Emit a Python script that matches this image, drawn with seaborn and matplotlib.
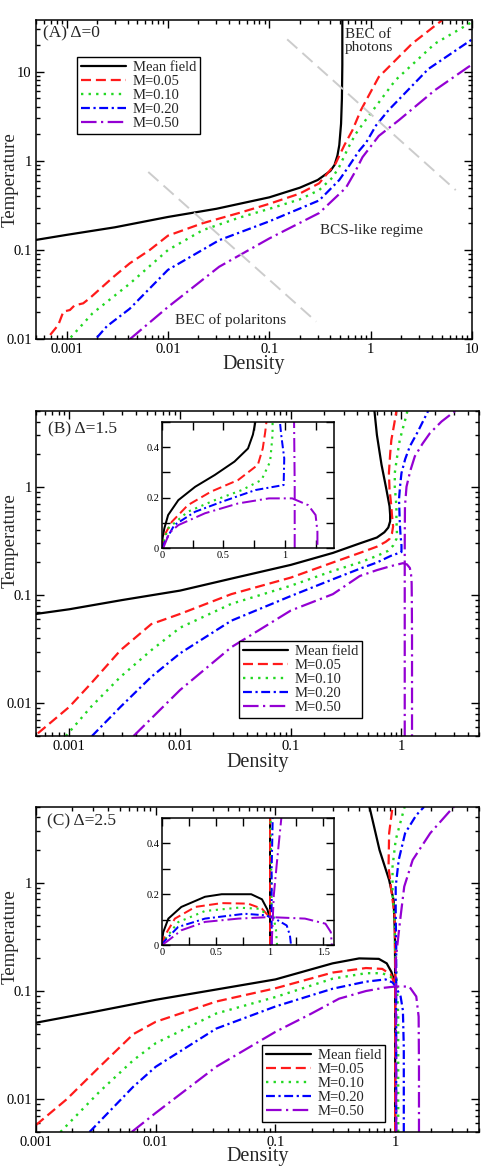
import numpy as np
import matplotlib
matplotlib.use('Agg')
import matplotlib.pyplot as plt
import matplotlib.ticker as ticker
import seaborn as sns

# series labels / look
labels = ['Mean field', 'M=0.05', 'M=0.10', 'M=0.20', 'M=0.50']
colors = ['black', '#ff1a1a', '#22d822', '#0000ff', '#9400d3']
styles = ['-', (0, (4.5, 2.2)), (0, (1, 2.2)), (0, (4, 1.6, 1, 1.6)), (0, (7, 2, 1, 2))]
widths = [1.6, 1.6, 1.7, 1.6, 1.6]

# ---------------- panel A (Delta = 0) ----------------
a_mf_x = [0.0005, 0.001, 0.003, 0.01, 0.03, 0.1, 0.2, 0.3, 0.4, 0.44, 0.47, 0.49, 0.51, 0.52, 0.525, 0.525]
a_mf_y = [0.13, 0.148, 0.18, 0.235, 0.29, 0.39, 0.5, 0.61, 0.77, 0.9, 1.15, 1.5, 2.6, 5, 12, 40]
a_m05_x = [0.00069, 0.00083, 0.00093, 0.00108, 0.0012, 0.00146, 0.0017, 0.0021, 0.0029, 0.0042, 0.0066,
           0.01, 0.022, 0.05, 0.1, 0.2, 0.31, 0.45, 0.55, 0.66, 0.8, 1.2, 2.56, 5.06]
a_m05_y = [0.0112, 0.0145, 0.0204, 0.0213, 0.024, 0.0253, 0.029, 0.036, 0.05, 0.071, 0.1,
           0.145, 0.2, 0.26, 0.33, 0.43, 0.56, 0.93, 1.5, 2.2, 3.7, 8.7, 20.6, 37.7]
a_m10_x = [0.0011, 0.0018, 0.0042, 0.01, 0.022, 0.05, 0.1, 0.2, 0.31, 0.42, 0.49, 0.6, 0.71, 0.89, 1.2, 1.75, 4.3, 10]
a_m10_y = [0.0105, 0.0195, 0.042, 0.1, 0.167, 0.23, 0.29, 0.37, 0.47, 0.65, 0.86, 1.4, 2.0, 2.86, 4.5, 8.0, 20.6, 36]
a_m20_x = [0.002, 0.0025, 0.0042, 0.01, 0.032, 0.1, 0.31, 0.49, 0.6, 0.77, 0.9, 1.13, 1.5, 3.7, 10]
a_m20_y = [0.0105, 0.014, 0.022, 0.06, 0.129, 0.21, 0.36, 0.61, 0.85, 1.3, 1.6, 2.5, 3.7, 10.7, 23]
a_m50_x = [0.0042, 0.01, 0.032, 0.1, 0.31, 0.57, 0.7, 0.83, 1.2, 1.9, 4.3, 9.1, 10]
a_m50_y = [0.01, 0.023, 0.065, 0.135, 0.26, 0.5, 0.75, 1.1, 1.9, 2.86, 6.2, 11.2, 12]
# guide lines separating the regimes
guide1_x = [0.0064, 0.29]
guide1_y = [0.75, 0.0158]
guide2_x = [0.15, 6.9]
guide2_y = [23, 0.47]

# ---------------- panel B (Delta = 1.5) ----------------
b_mf_x = [0.0005, 0.001, 0.003, 0.01, 0.03, 0.1, 0.24, 0.42, 0.6, 0.7, 0.76, 0.79, 0.79, 0.78, 0.73, 0.66, 0.6, 0.57]
b_mf_y = [0.067, 0.074, 0.09, 0.11, 0.143, 0.19, 0.245, 0.3, 0.34, 0.38, 0.42, 0.48, 0.55, 0.66, 0.95, 1.6, 3.0, 5.0]
b_m05_x = [0.00052, 0.001, 0.00157, 0.0029, 0.0055, 0.01, 0.029, 0.1, 0.24, 0.42, 0.6, 0.72, 0.78, 0.82,
           0.84, 0.82, 0.81, 0.78, 0.77, 0.79, 0.81, 0.86, 0.9]
b_m05_y = [0.0053, 0.0093, 0.0153, 0.031, 0.054, 0.067, 0.102, 0.145, 0.2, 0.245, 0.28, 0.31, 0.33, 0.37,
           0.43, 0.55, 0.66, 0.95, 1.34, 2.0, 2.7, 3.8, 5.0]
b_m10_x = [0.00093, 0.00157, 0.0029, 0.0055, 0.01, 0.029, 0.1, 0.24, 0.42, 0.6, 0.75, 0.84, 0.9, 0.91,
           0.9, 0.9, 0.87, 0.87, 0.92, 0.965, 1.04, 1.11, 1.13]
b_m10_y = [0.005, 0.0093, 0.0176, 0.031, 0.05, 0.083, 0.122, 0.167, 0.2, 0.23, 0.255, 0.286, 0.33, 0.37,
           0.5, 0.66, 1.0, 1.34, 2.0, 2.7, 3.6, 4.6, 5.0]
b_m20_x = [0.0016, 0.0029, 0.0055, 0.01, 0.029, 0.1, 0.24, 0.42, 0.6, 0.8, 0.95, 1.0, 1.0, 0.98, 0.965,
           0.95, 0.97, 1.0, 1.08, 1.19, 1.4, 1.74]
b_m20_y = [0.005, 0.0093, 0.0176, 0.029, 0.058, 0.098, 0.14, 0.175, 0.2, 0.23, 0.245, 0.25, 0.286, 0.36, 0.47,
           0.77, 1.0, 1.34, 1.8, 2.36, 3.2, 5.0]
b_m50_x = [0.0038, 0.01, 0.029, 0.1, 0.24, 0.42, 0.6, 0.8, 1.03, 1.12, 1.19, 1.22, 1.235, 1.24, 1.245, 1.245]
b_m50_y = [0.005, 0.0133, 0.033, 0.072, 0.102, 0.15, 0.17, 0.185, 0.197, 0.192, 0.178, 0.155, 0.13, 0.09, 0.04, 0.005]
b_m50_hi_x = [1.07, 1.07, 1.07, 1.075, 1.11, 1.2, 1.32, 1.55, 1.81, 2.3, 3.05]
b_m50_hi_y = [0.005, 0.05, 0.3, 0.66, 1.0, 1.4, 1.91, 2.5, 3.13, 4.0, 5.0]

# inset B (linear scale)
bi_mf_x = [0, 0.005, 0.019, 0.05, 0.133, 0.27, 0.43, 0.59, 0.7, 0.74, 0.76]
bi_mf_y = [0, 0.04, 0.078, 0.131, 0.19, 0.243, 0.29, 0.343, 0.395, 0.45, 0.5]
bi_m05_x = [0, 0.01, 0.03, 0.08, 0.21, 0.4, 0.62, 0.78, 0.82, 0.84, 0.85]
bi_m05_y = [0, 0.03, 0.06, 0.104, 0.17, 0.224, 0.27, 0.33, 0.395, 0.46, 0.5]
bi_m10_x = [0, 0.015, 0.05, 0.21, 0.43, 0.65, 0.81, 0.88, 0.9, 0.9]
bi_m10_y = [0, 0.03, 0.078, 0.144, 0.19, 0.23, 0.27, 0.343, 0.45, 0.5]
bi_m20_x = [0, 0.024, 0.1, 0.27, 0.49, 0.76, 0.99, 0.995, 0.97, 0.96]
bi_m20_y = [0, 0.025, 0.091, 0.144, 0.184, 0.23, 0.25, 0.356, 0.45, 0.5]
bi_m50_x = [0.01, 0.06, 0.133, 0.35, 0.62, 0.87, 1.06, 1.19, 1.25, 1.265, 1.265]
bi_m50_y = [0, 0.06, 0.091, 0.138, 0.177, 0.197, 0.197, 0.17, 0.131, 0.065, 0]
bi_m50_hi_x = [1.08, 1.08, 1.075]
bi_m50_hi_y = [0, 0.25, 0.5]

# ---------------- panel C (Delta = 2.5) ----------------
c_mf_x = [0.001, 0.003, 0.01, 0.03, 0.1, 0.3, 0.5, 0.73, 0.85, 0.93, 0.98, 1.0]
c_mf_y = [0.051, 0.064, 0.083, 0.102, 0.128, 0.18, 0.2, 0.198, 0.18, 0.15, 0.125, 0.11]
c_mf_hi_x = [1.0, 1.0, 0.995, 0.97, 0.89, 0.74, 0.61]
c_mf_hi_y = [0.005, 0.11, 0.34, 0.69, 1.06, 2.0, 5.0]
c_m05_x = [0.001, 0.0018, 0.0034, 0.0065, 0.01, 0.032, 0.1, 0.3, 0.57, 0.78, 0.92, 0.98, 1.0]
c_m05_y = [0.0058, 0.01, 0.02, 0.04, 0.052, 0.08, 0.106, 0.148, 0.163, 0.16, 0.142, 0.12, 0.11]
c_m05_hi_x = [1.0, 1.0, 0.99, 0.92, 0.88, 0.89, 0.95]
c_m05_hi_y = [0.005, 0.2, 0.49, 0.92, 1.4, 2.86, 5.0]
c_m10_x = [0.0016, 0.0034, 0.0065, 0.01, 0.032, 0.1, 0.3, 0.57, 0.78, 0.92, 0.99]
c_m10_y = [0.005, 0.0118, 0.023, 0.033, 0.062, 0.088, 0.13, 0.146, 0.146, 0.135, 0.114]
c_m10_hi_x = [1.06, 1.06, 1.03, 1.0, 0.99, 0.95, 0.95, 1.01, 1.19, 1.2]
c_m10_hi_y = [0.005, 0.06, 0.12, 0.25, 0.45, 0.8, 1.4, 2.48, 4.86, 5.0]
c_m20_x = [0.0028, 0.0065, 0.01, 0.032, 0.1, 0.3, 0.57, 0.83, 0.95, 1.01, 1.11, 1.16, 1.18, 1.18]
c_m20_y = [0.005, 0.0131, 0.02, 0.045, 0.072, 0.105, 0.122, 0.128, 0.12, 0.11, 0.089, 0.066, 0.03, 0.005]
c_m20_hi_x = [1.02, 1.02, 1.01, 1.01, 1.07, 1.21, 1.5, 1.74]
c_m20_hi_y = [0.005, 0.26, 0.49, 0.92, 1.62, 2.86, 4.2, 5.0]
c_m50_x = [0.0063, 0.01, 0.032, 0.1, 0.2, 0.34, 0.57, 0.8, 1.0, 1.31, 1.5, 1.57, 1.58, 1.58]
c_m50_y = [0.005, 0.0075, 0.02, 0.042, 0.062, 0.085, 0.1, 0.107, 0.11, 0.11, 0.089, 0.058, 0.02, 0.005]
c_m50_hi_x = [1.02, 1.01, 1.04, 1.11, 1.19, 1.4, 1.96, 2.91, 3.1]
c_m50_hi_y = [0.005, 0.19, 0.26, 0.49, 0.92, 1.62, 2.86, 4.68, 5.0]

# inset C (linear scale)
ci_mf_x = [0, 0.005, 0.012, 0.059, 0.18, 0.4, 0.555, 0.83, 0.93, 0.98, 1.0]
ci_mf_y = [0, 0.03, 0.051, 0.104, 0.15, 0.19, 0.2, 0.2, 0.18, 0.14, 0.11]
ci_mf_hi_x = [1.0, 1.0]
ci_mf_hi_y = [0, 0.5]
ci_m05_x = [0, 0.028, 0.12, 0.31, 0.555, 0.8, 0.93, 1.0]
ci_m05_y = [0, 0.038, 0.104, 0.15, 0.165, 0.163, 0.143, 0.11]
ci_m05_hi_x = [1.005, 1.005]
ci_m05_hi_y = [0, 0.5]
ci_m10_x = [0, 0.043, 0.15, 0.4, 0.71, 0.9, 0.99]
ci_m10_y = [0, 0.031, 0.09, 0.134, 0.147, 0.143, 0.117]
ci_m10_hi_x = [1.07, 1.06, 1.02, 1.01]
ci_m10_hi_y = [0, 0.06, 0.15, 0.5]
ci_m20_x = [0, 0.028, 0.15, 0.4, 0.77, 0.96, 1.05, 1.16, 1.19, 1.2]
ci_m20_y = [0, 0.018, 0.071, 0.104, 0.123, 0.117, 0.104, 0.077, 0.038, 0]
ci_m20_hi_x = [1.02, 1.02, 1.03]
ci_m20_hi_y = [0, 0.3, 0.5]
ci_m50_x = [0, 0.059, 0.18, 0.4, 0.71, 1.0, 1.33, 1.52, 1.57, 1.58]
ci_m50_y = [0, 0.018, 0.058, 0.091, 0.104, 0.11, 0.104, 0.084, 0.051, 0]
ci_m50_hi_x = [1.02, 1.03, 1.04, 1.07, 1.11]
ci_m50_hi_y = [0, 0.1, 0.196, 0.33, 0.5]

sns.set_style('ticks', {'axes.edgecolor': 'black', 'xtick.color': 'black', 'ytick.color': 'black',
                        'xtick.direction': 'in', 'ytick.direction': 'in'})
plt.rcParams['font.family'] = ['Liberation Serif', 'DejaVu Serif']

fmt = ticker.FuncFormatter(lambda v, p: '%g' % v)


def draw(ax, curves, lw_scale=1.0):
    handles = {}
    for k, xs, ys in curves:
        sns.lineplot(x=xs, y=ys, ax=ax, sort=False, estimator=None, legend=False,
                     color=colors[k], linestyle=styles[k], linewidth=widths[k] * lw_scale)
        handles.setdefault(k, ax.get_lines()[-1])
    return [handles[k] for k in sorted(handles)]


def style_log(ax, xlim, ylim):
    ax.set_xscale('log')
    ax.set_yscale('log')
    ax.set_xlim(*xlim)
    ax.set_ylim(*ylim)
    for axis in (ax.xaxis, ax.yaxis):
        axis.set_major_locator(ticker.LogLocator(base=10, numticks=20))
        axis.set_minor_locator(ticker.LogLocator(base=10, subs=np.arange(2, 10), numticks=20))
        axis.set_major_formatter(fmt)
        axis.set_minor_formatter(ticker.NullFormatter())
    ax.tick_params(which='both', direction='in', top=True, right=True, width=1, labelsize=10.5, pad=3)
    ax.tick_params(which='major', length=5.5)
    ax.tick_params(which='minor', length=3)
    for s in ax.spines.values():
        s.set_linewidth(1.1)
    ax.set_xlabel('Density', fontsize=14.5)
    ax.set_ylabel('Temperature', fontsize=13.5)


def style_inset(ax, xmax):
    ax.set_xlim(0, xmax)
    ax.set_ylim(0, 0.5)
    ax.xaxis.set_major_locator(ticker.MultipleLocator(0.5))
    ax.xaxis.set_minor_locator(ticker.MultipleLocator(0.25))
    ax.yaxis.set_major_locator(ticker.MultipleLocator(0.2))
    ax.yaxis.set_minor_locator(ticker.MultipleLocator(0.1))
    ax.xaxis.set_major_formatter(fmt)
    ax.yaxis.set_major_formatter(fmt)
    ax.tick_params(which='both', direction='in', top=True, right=True, width=1, labelsize=7.5, pad=2)
    ax.tick_params(which='major', length=6)
    ax.tick_params(which='minor', length=6)
    for s in ax.spines.values():
        s.set_linewidth(1.1)
    ax.set_xlabel('')
    ax.set_ylabel('')


def add_legend(ax, handles, anchor, loc):
    leg = ax.legend(handles, labels, loc=loc, bbox_to_anchor=anchor, borderaxespad=0, fontsize=10.5,
                    handlelength=3.1, labelspacing=0.05, borderpad=0.28, handletextpad=0.45,
                    fancybox=False, framealpha=1, edgecolor='black')
    leg.get_frame().set_linewidth(1.0)


fig = plt.figure(figsize=(4.84, 11.7), dpi=100)

# ---- A ----
axA = fig.add_axes([0.0744, 0.710, 0.901, 0.273])
hA = draw(axA, [(0, a_mf_x, a_mf_y), (1, a_m05_x, a_m05_y), (2, a_m10_x, a_m10_y),
                (3, a_m20_x, a_m20_y), (4, a_m50_x, a_m50_y)])
sns.lineplot(x=guide1_x, y=guide1_y, ax=axA, sort=False, estimator=None, color='#cccccc',
             linestyle=(0, (7, 3.5)), linewidth=1.4, legend=False)
sns.lineplot(x=guide2_x, y=guide2_y, ax=axA, sort=False, estimator=None, color='#cccccc',
             linestyle=(0, (7, 3.5)), linewidth=1.4, legend=False)
style_log(axA, (0.0005, 10), (0.01, 38))
axA.text(0.016, 0.958, '(A) Δ=0', transform=axA.transAxes, fontsize=12.5, ha='left', va='center')
axA.text(0.709, 0.975, 'BEC of\nphotons', transform=axA.transAxes, fontsize=11, ha='left', va='top',
         linespacing=1.0)
axA.text(0.77, 0.342, 'BCS-like regime', transform=axA.transAxes, fontsize=11, ha='center', va='center')
axA.text(0.446, 0.06, 'BEC of polaritons', transform=axA.transAxes, fontsize=11, ha='center', va='center')
add_legend(axA, hA, (0.094, 0.884), 'upper left')
axA.yaxis.set_label_coords(-0.04, 0.5)
axA.xaxis.set_label_coords(0.5, -0.05)

# ---- B ----
axB = fig.add_axes([0.0744, 0.3709, 0.915, 0.2778])
hB = draw(axB, [(0, b_mf_x, b_mf_y), (1, b_m05_x, b_m05_y), (2, b_m10_x, b_m10_y),
                (3, b_m20_x, b_m20_y), (4, b_m50_x, b_m50_y), (4, b_m50_hi_x, b_m50_hi_y)])
style_log(axB, (0.0005, 5), (0.005, 5))
axB.text(0.027, 0.945, '(B) Δ=1.5', transform=axB.transAxes, fontsize=12.5, ha='left', va='center')
add_legend(axB, hB, (0.458, 0.055), 'lower left')
axB.yaxis.set_label_coords(-0.04, 0.6)
axB.xaxis.set_label_coords(0.5, -0.052)

insB = fig.add_axes([0.3347, 0.5316, 0.3554, 0.1077])
draw(insB, [(0, bi_mf_x, bi_mf_y), (1, bi_m05_x, bi_m05_y), (2, bi_m10_x, bi_m10_y),
            (3, bi_m20_x, bi_m20_y), (4, bi_m50_x, bi_m50_y), (4, bi_m50_hi_x, bi_m50_hi_y)], lw_scale=0.9)
style_inset(insB, 1.4)

# ---- C ----
axC = fig.add_axes([0.0744, 0.0325, 0.915, 0.2778])
hC = draw(axC, [(0, c_mf_x, c_mf_y), (0, c_mf_hi_x, c_mf_hi_y), (1, c_m05_x, c_m05_y), (1, c_m05_hi_x, c_m05_hi_y),
                (2, c_m10_x, c_m10_y), (2, c_m10_hi_x, c_m10_hi_y), (3, c_m20_x, c_m20_y), (3, c_m20_hi_x, c_m20_hi_y),
                (4, c_m50_x, c_m50_y), (4, c_m50_hi_x, c_m50_hi_y)])
style_log(axC, (0.001, 5), (0.005, 5))
axC.text(0.025, 0.957, '(C) Δ=2.5', transform=axC.transAxes, fontsize=12.5, ha='left', va='center')
add_legend(axC, hC, (0.51, 0.031), 'lower left')
axC.yaxis.set_label_coords(-0.04, 0.6)
axC.xaxis.set_label_coords(0.5, -0.047)

insC = fig.add_axes([0.3347, 0.1923, 0.3554, 0.1085])
draw(insC, [(0, ci_mf_x, ci_mf_y), (0, ci_mf_hi_x, ci_mf_hi_y), (1, ci_m05_x, ci_m05_y), (1, ci_m05_hi_x, ci_m05_hi_y),
            (2, ci_m10_x, ci_m10_y), (2, ci_m10_hi_x, ci_m10_hi_y), (3, ci_m20_x, ci_m20_y), (3, ci_m20_hi_x, ci_m20_hi_y),
            (4, ci_m50_x, ci_m50_y), (4, ci_m50_hi_x, ci_m50_hi_y)], lw_scale=0.9)
style_inset(insC, 1.6)

fig.savefig('out.png', dpi=100)
